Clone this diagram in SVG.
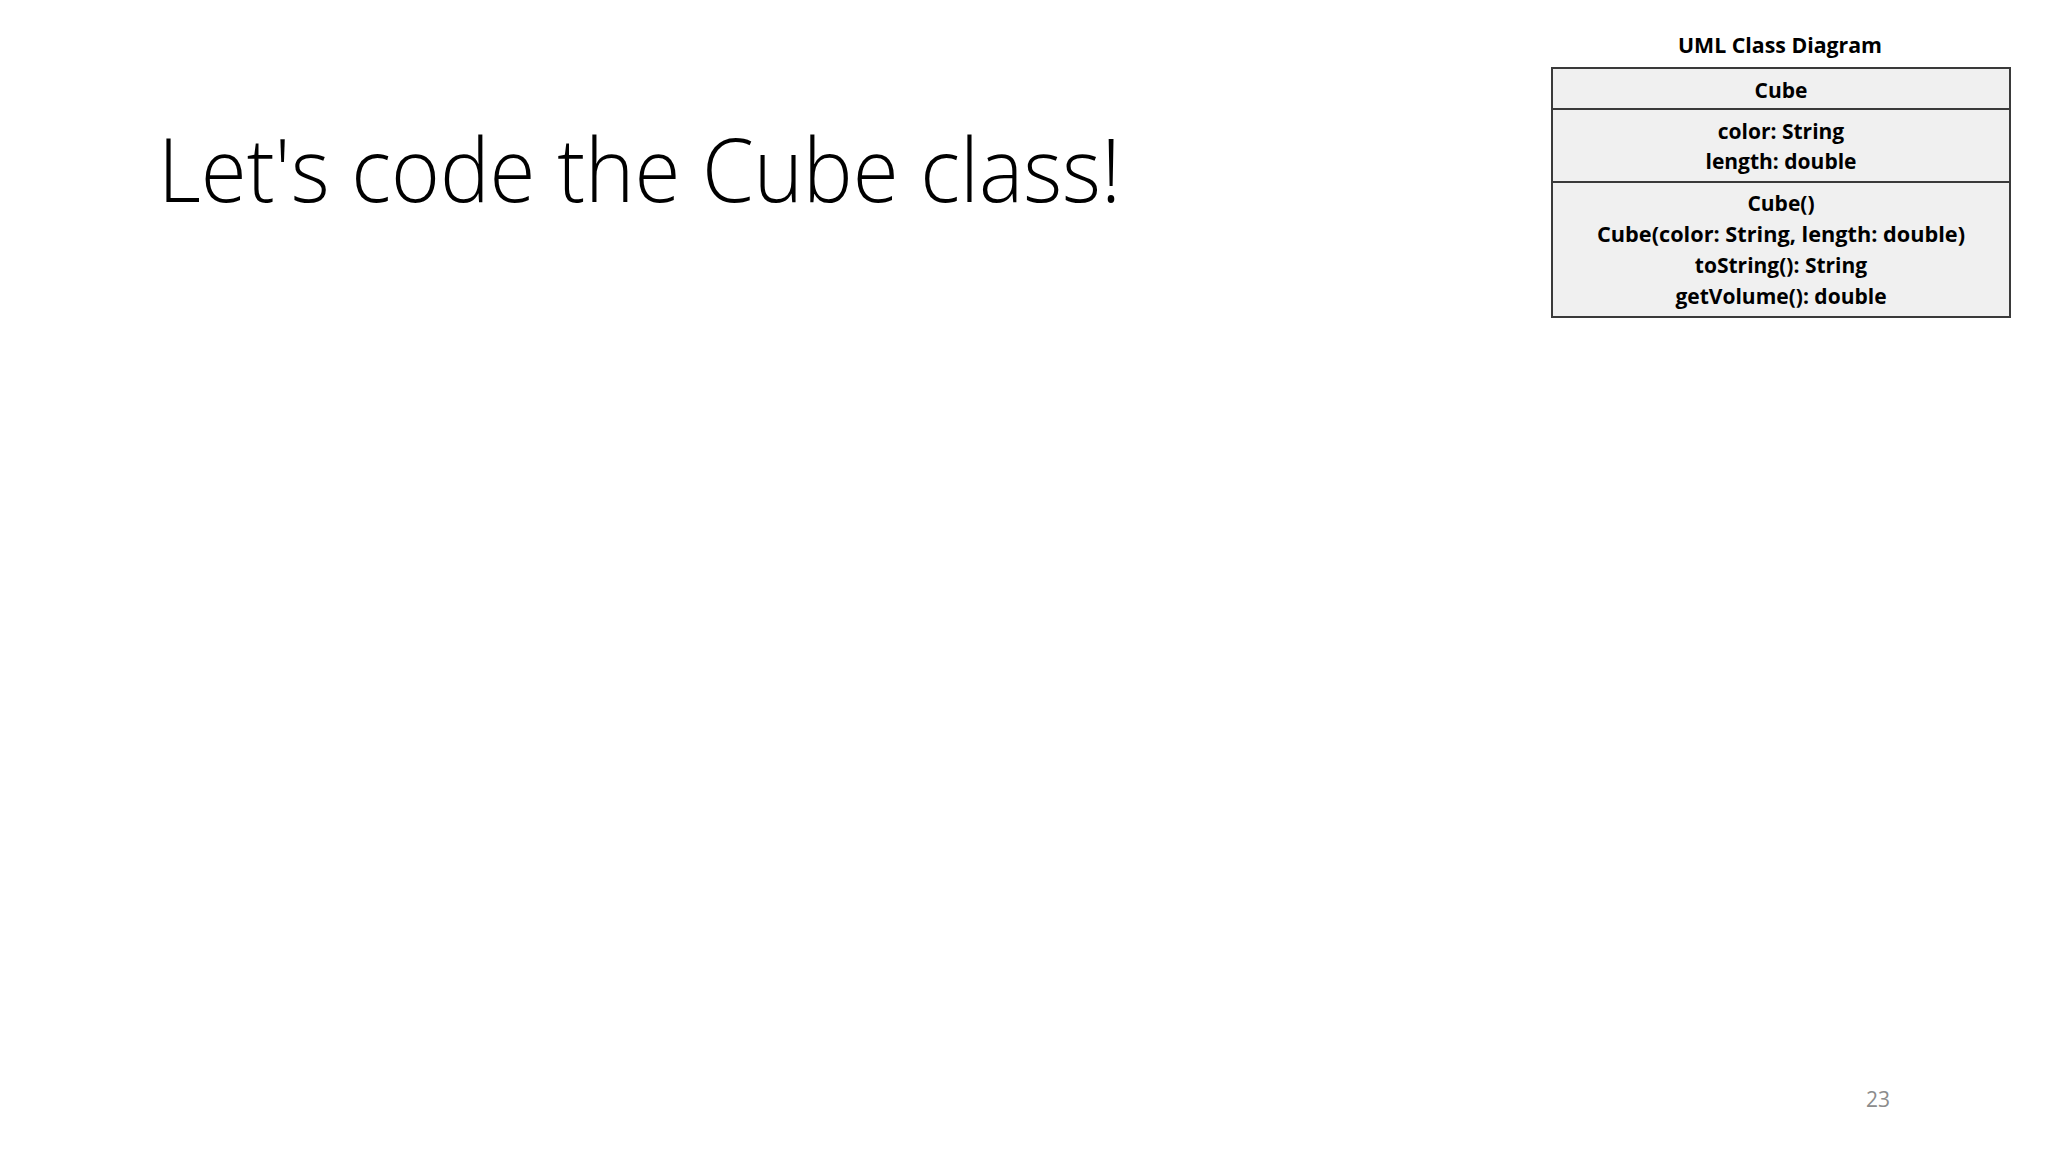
<svg xmlns="http://www.w3.org/2000/svg" width="2048" height="1152" viewBox="0 0 2048 1152">
<style>
.title{font-family:"Open Sans","Liberation Sans",sans-serif;font-weight:300;font-size:88px;fill:#000}
.uml{font-family:"Open Sans","Liberation Sans",sans-serif;font-weight:700;font-size:21px;fill:#000;text-anchor:middle}
.box{fill:#f0f0f0;stroke:#3a3a3a;stroke-width:2}
.sep{stroke:#3a3a3a;stroke-width:2}
.pg{font-family:"Open Sans","Liberation Sans",sans-serif;font-size:21px;fill:#8c8c8c;text-anchor:middle}
</style>
<rect width="2048" height="1152" fill="#fff"/>
<text class="title" x="158" y="202" textLength="963" lengthAdjust="spacingAndGlyphs">Let's code the Cube class!</text>
<g id="uml-caption">
<text class="uml" x="1780" y="53" textLength="204" lengthAdjust="spacingAndGlyphs">UML Class Diagram</text>
</g>
<g id="cube-class">
<rect class="box" x="1552" y="68" width="458" height="249"/>
<line class="sep" x1="1552" y1="109" x2="2010" y2="109"/>
<line class="sep" x1="1552" y1="182" x2="2010" y2="182"/>
<text class="uml" x="1781" y="98">Cube</text>
<text class="uml" x="1781" y="139">color: String</text>
<text class="uml" x="1781" y="169">length: double</text>
<text class="uml" x="1781" y="211">Cube()</text>
<text class="uml" x="1781" y="242" textLength="368" lengthAdjust="spacingAndGlyphs">Cube(color: String, length: double)</text>
<text class="uml" x="1781" y="273">toString(): String</text>
<text class="uml" x="1781" y="304">getVolume(): double</text>
</g>
<text class="pg" x="1878" y="1107">23</text>
</svg>
